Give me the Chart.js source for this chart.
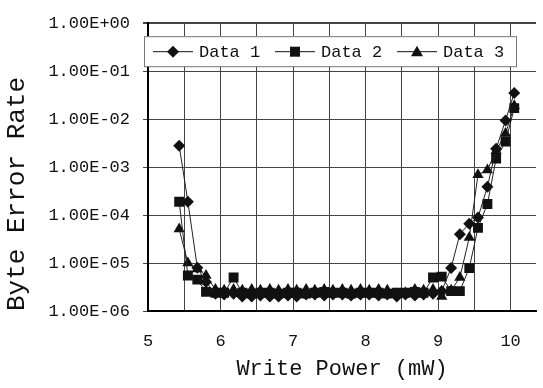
<!DOCTYPE html>
<html>
<head>
<meta charset="utf-8">
<script src="https://cdn.jsdelivr.net/npm/chart.js@4/dist/chart.umd.min.js"></script>
<style>
  html, body { margin: 0; padding: 0; background: #fff; overflow: hidden; }
</style>
</head>
<body>
<canvas id="berChart" width="543" height="388"></canvas>
<script>
// write power (mW)
var power = [5.43, 5.55, 5.68, 5.80, 5.93, 6.05, 6.18, 6.30, 6.43, 6.55,
             6.68, 6.80, 6.93, 7.05, 7.18, 7.30, 7.43, 7.55, 7.68, 7.80,
             7.93, 8.05, 8.18, 8.30, 8.43, 8.55, 8.68, 8.80, 8.93, 9.05,
             9.18, 9.30, 9.43, 9.55, 9.68, 9.80, 9.93, 10.05];

var data1 = [2.8e-3, 1.9e-4, 8.0e-6, 4.0e-6, 2.3e-6, 2.2e-6, 2.3e-6, 2.0e-6, 2.0e-6, 2.1e-6,
             2.0e-6, 2.0e-6, 2.1e-6, 2.0e-6, 2.2e-6, 2.2e-6, 2.1e-6, 2.2e-6, 2.2e-6, 2.1e-6,
             2.2e-6, 2.2e-6, 2.1e-6, 2.2e-6, 2.0e-6, 2.2e-6, 2.1e-6, 2.2e-6, 2.3e-6, 2.6e-6,
             7.9e-6, 4.0e-5, 6.6e-5, 8.9e-5, 3.9e-4, 2.4e-3, 9.4e-3, 3.5e-2];

var data2 = [1.9e-4, 5.5e-6, 4.5e-6, 2.5e-6, 2.4e-6, 2.4e-6, 5.0e-6, 2.4e-6, 2.3e-6, 2.4e-6,
             2.4e-6, 2.3e-6, 2.4e-6, 2.4e-6, 2.3e-6, 2.4e-6, 2.5e-6, 2.4e-6, 2.4e-6, 2.3e-6,
             2.4e-6, 2.4e-6, 2.4e-6, 2.3e-6, 2.4e-6, 2.4e-6, 2.5e-6, 2.4e-6, 5.0e-6, 5.2e-6,
             2.6e-6, 2.6e-6, 7.9e-6, 5.4e-5, 1.7e-4, 1.5e-3, 3.4e-3, 1.7e-2];

var data3 = [5.1e-5, 1.0e-5, 7.5e-6, 5.5e-6, 2.8e-6, 2.7e-6, 2.8e-6, 2.7e-6, 2.8e-6, 2.7e-6,
             2.8e-6, 2.7e-6, 2.8e-6, 2.7e-6, 2.8e-6, 2.7e-6, 2.8e-6, 2.7e-6, 2.8e-6, 2.7e-6,
             2.8e-6, 2.7e-6, 2.8e-6, 2.7e-6, 2.3e-6, 2.4e-6, 2.8e-6, 2.7e-6, 2.8e-6, 2.0e-6,
             2.7e-6, 5.0e-6, 3.4e-5, 6.9e-4, 8.7e-4, 2.2e-3, 5.0e-3, 1.9e-2];

var seriesNames = ["Data 1", "Data 2", "Data 3"];

// axis ticks / grid
var xGrid = [5, 5.5, 6, 6.5, 7, 7.5, 8, 8.5, 9, 9.5, 10];
var yTicks = [1e-6, 1e-5, 1e-4, 1e-3, 1e-2, 1e-1, 1];

var FONT = '"Liberation Mono", "DejaVu Sans Mono", monospace';

function sci(v) {
   var e = Math.round(Math.log10(v));
   var m = v / Math.pow(10, e);
   return m.toFixed(2) + 'E' + (e < 0 ? '-' : '+') + String(Math.abs(e)).padStart(2, '0');
}

function pts(vals) {
   return power.map(function (x, i) { return { x: x, y: vals[i] }; });
}

function marker(ctx, style, x, y) {
   ctx.beginPath();
   if (style === 'rectRot') {
      ctx.moveTo(x, y - 6); ctx.lineTo(x + 6, y); ctx.lineTo(x, y + 6); ctx.lineTo(x - 6, y);
   } else if (style === 'rect') {
      ctx.rect(x - 5, y - 5, 10, 10);
   } else {
      ctx.moveTo(x, y - 6); ctx.lineTo(x + 6, y + 4.5); ctx.lineTo(x - 6, y + 4.5);
   }
   ctx.closePath();
   ctx.fill();
}

// legend sits inside the plot, boxed
var boxLegend = {
   id: 'boxLegend',
   afterDraw: function (chart) {
      var ctx = chart.ctx, a = chart.chartArea;
      var bx = a.left - 4, by = a.top + 13, bw = 372, bh = 30;
      ctx.save();
      ctx.fillStyle = '#fff';
      ctx.fillRect(bx, by, bw, bh);
      ctx.strokeStyle = '#777';
      ctx.lineWidth = 1;
      ctx.strokeRect(bx + 0.5, by + 0.5, bw, bh);
      chart.data.datasets.forEach(function (ds, i) {
         var x0 = bx + 9 + i * 122, cy = by + bh / 2 + 0.5;
         ctx.strokeStyle = '#111';
         ctx.beginPath(); ctx.moveTo(x0, cy); ctx.lineTo(x0 + 40, cy); ctx.stroke();
         ctx.fillStyle = '#111';
         marker(ctx, ds.pointStyle, x0 + 20, cy);
         ctx.font = '17px ' + FONT;
         ctx.textBaseline = 'middle';
         ctx.fillText(ds.label, x0 + 46, cy + 1);
      });
      ctx.restore();
   }
};

var styles = ['rectRot', 'rect', 'triangle'];
var radii = [6, 7, 6.5];
var series = [data1, data2, data3];

var ctxB = document.getElementById('berChart').getContext('2d');
var berChart = new Chart(ctxB, {
   type: 'line',
   data: {
      datasets: series.map(function (vals, i) {
         return {
            label: seriesNames[i],
            data: pts(vals),
            borderColor: '#222',
            borderWidth: 1,
            backgroundColor: '#111',
            pointBackgroundColor: '#111',
            pointBorderColor: '#111',
            pointStyle: styles[i],
            pointRadius: radii[i],
            pointBorderWidth: 0,
            tension: 0,
            fill: false
         };
      })
   },
   options: {
      responsive: false,
      animation: false,
      layout: { padding: { top: 20, left: 0, right: 0, bottom: 0 } },
      plugins: {
         legend: { display: false },
         tooltip: { enabled: false }
      },
      scales: {
         x: {
            type: 'linear',
            min: 5,
            max: 10.35,
            afterBuildTicks: function (axis) {
               axis.ticks = xGrid.map(function (v) { return { value: v }; });
            },
            afterFit: function (axis) { axis.height = 77; },
            grid: { color: '#444', lineWidth: 1, drawTicks: false },
            border: { color: '#000', width: 2 },
            ticks: {
               autoSkip: false,
               maxRotation: 0,
               padding: 20,
               color: '#111',
               font: { family: FONT, size: 17 },
               callback: function (v) { return Number.isInteger(v) ? String(v) : ''; }
            },
            title: {
               display: true,
               text: 'Write Power (mW)',
               color: '#111',
               font: { family: FONT, size: 22 },
               padding: { top: 0, bottom: 6 }
            }
         },
         y: {
            type: 'logarithmic',
            min: 1e-6,
            max: 1,
            afterBuildTicks: function (axis) {
               axis.ticks = yTicks.map(function (v) { return { value: v }; });
            },
            afterFit: function (axis) { axis.width = 148; },
            grid: {
               color: '#444',
               lineWidth: function (c) { return c.tick && c.tick.value === 1 ? 2 : 1; },
               tickLength: 5
            },
            border: { color: '#000', width: 2 },
            ticks: {
               autoSkip: false,
               padding: 13,
               color: '#111',
               font: { family: FONT, size: 17 },
               callback: function (v) { return sci(v); }
            },
            title: {
               display: true,
               text: 'Byte Error Rate',
               align: 'start',
               color: '#111',
               font: { family: FONT, size: 26 },
               padding: { top: 2, bottom: 0 }
            }
         }
      }
   },
   plugins: [boxLegend]
});
</script>
</body>
</html>
